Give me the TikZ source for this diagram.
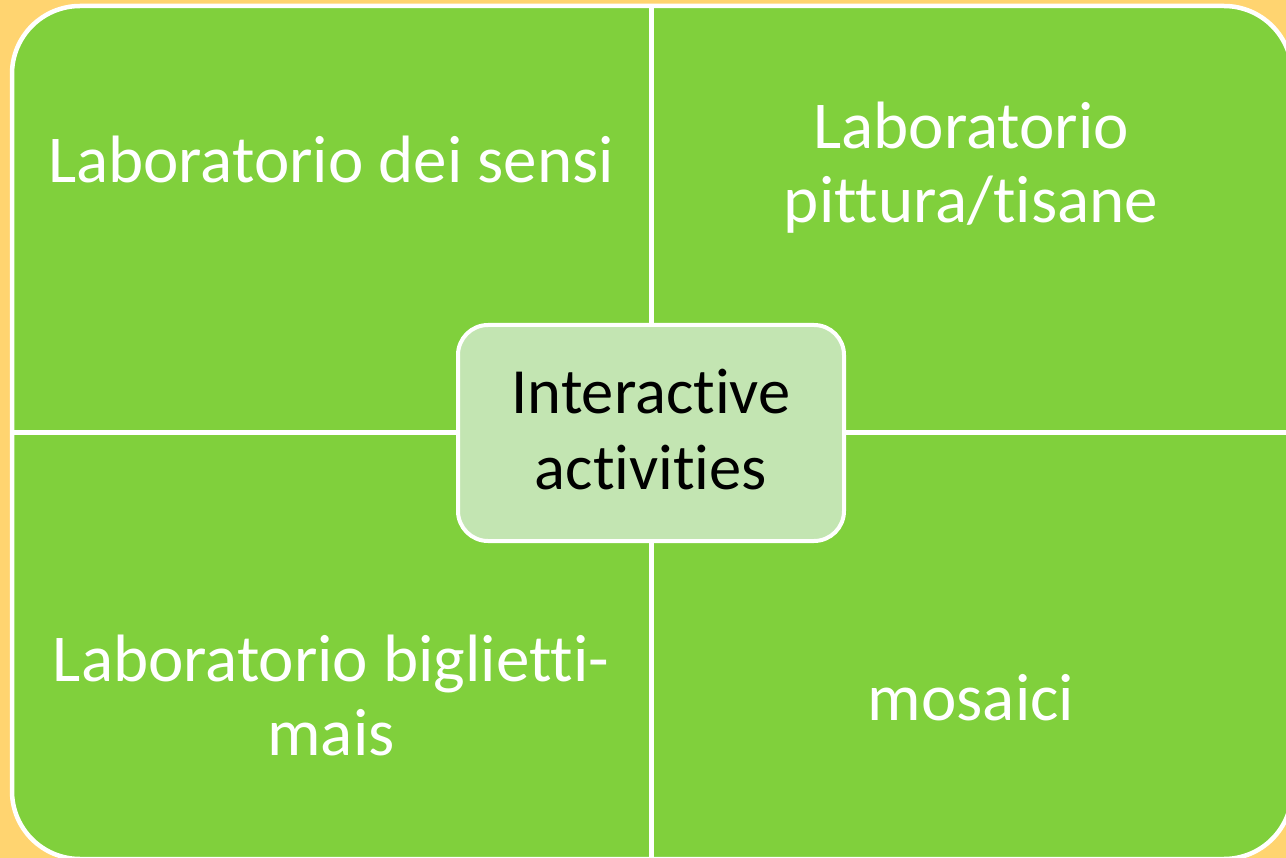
\documentclass[tikz,border=0pt]{standalone}
\usepackage{fontspec}
\setmainfont{Carlito}[Ligatures=NoCommon]
\definecolor{bgorange}{RGB}{255,212,112}
\definecolor{quadgreen}{RGB}{128,208,60}
\definecolor{centergreen}{RGB}{195,229,178}
\tikzset{
  quadtext/.style={text=white, font=\fontsize{67}{74}\selectfont, align=center, inner sep=0pt, anchor=base},
  centerbox/.style={fill=centergreen, draw=white, line width=4pt, rounded corners=30pt,
    minimum width=386pt, minimum height=216pt, inner sep=0pt},
  centertext/.style={font=\fontsize{64.5}{77}\selectfont, align=center, text=black, inner sep=0pt, anchor=base},
  divider/.style={draw=white, line width=5pt}
}
\begin{document}
\begin{tikzpicture}[x=1pt,y=-1pt]
\useasboundingbox (0,0) rectangle (1286,858);
\clip (0,0) rectangle (1286,858);
\fill[bgorange] (0,0) rectangle (1286,858);
\filldraw[fill=quadgreen, draw=white, line width=4.5pt, rounded corners=68pt] (12,6) rectangle (1292,859);
\coordinate (top) at (651,4);
\coordinate (bottom) at (651,862);
\coordinate (left) at (10,433);
\coordinate (right) at (1290,433);
\draw[divider] (top) -- (bottom);
\draw[divider] (left) -- (right);
\node[centerbox] (center) at (651,433) {};
\node[centertext] (centerlabel) at (651,490) {Interactive\\activities};
\node[quadtext] (tl) at (331,183) {Laboratorio dei sensi};
\node[quadtext] (tr) at (971,223) {Laboratorio\\pittura/tisane};
\node[quadtext] (bl) at (331,755) {Laboratorio biglietti-\\mais};
\node[quadtext] (br) at (971,720) {mosaici};
\end{tikzpicture}
\end{document}
